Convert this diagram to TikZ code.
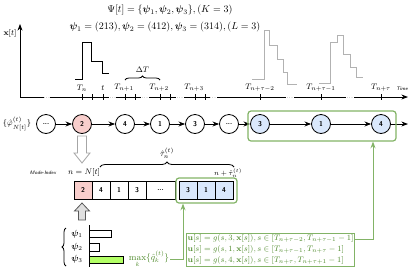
\documentclass[tikz,border=0pt]{standalone}
\usepackage{bm}
\usepackage{xcolor}
\usepackage{tikz}
\usetikzlibrary{arrows.meta,calc,decorations.pathreplacing}
\definecolor{selgreen}{HTML}{82B366}
\definecolor{seltext}{HTML}{4F8A2B}
\definecolor{pinkfill}{HTML}{F8CECC}
\definecolor{bluefill}{HTML}{DAE8FC}
\definecolor{limefill}{HTML}{B3FF66}
\tikzset{
  mode/.style={circle,draw,thick,minimum size=19pt,inner sep=0pt,font=\sffamily\bfseries\scriptsize},
  cell/.style={draw,thick,minimum width=18pt,minimum height=18pt,inner sep=0pt,font=\sffamily\bfseries\scriptsize},
  tlab/.style={font=\footnotesize,inner sep=1pt},
  dotsep/.style={font=\tiny,inner sep=0pt},
  selbox/.style={draw=selgreen,line width=1.2pt,rounded corners=3pt},
}

\begin{document}
\begin{tikzpicture}[x=1pt,y=-1pt,>=Stealth]
  \useasboundingbox (0,0) rectangle (415,274);
  % mode set
  \node (psiset) at (170,10) {$\Psi[t]=\{\bm{\psi}_1,\bm{\psi}_2,\bm{\psi}_3\},(K=3)$};
  \node (psidef) at (165,27) {$\bm{\psi}_1=(213),\bm{\psi}_2=(412),\bm{\psi}_3=(314),(L=3)$};
  % signal axes
  \coordinate (O) at (20,97);
  \coordinate (ytop) at (20,24);
  \coordinate (tend) at (408,97);
  \draw[->,thick] (O) -- (ytop);
  \node (xlab) at (10,33) {\footnotesize $\mathbf{x}[t]$};
  \foreach \a/\b in {20/44,50/109,116/141,149/176,184/210,217/286,294/346}
    \draw[thick] (\a,97) -- (\b,97);
  \draw[->,thick] (354,97) -- (tend);
  \foreach \dx [count=\i] in {47,113,145,180,213,290,350}
    \node[dotsep] (gap\i) at (\dx,98.5) {...};
  \foreach \tx in {82,92,103,125,135,160,170,195,205,260,321,381}
    \draw[thick] (\tx,94) -- (\tx,100);
  \node[tlab] (Tn) at (82,88) {$T_n$};
  \node[tlab] (tt) at (103,88) {$t$};
  \node[tlab] (Tn1) at (124,88) {$T_{n+1}$};
  \node[tlab] (Tn2) at (159,88) {$T_{n+2}$};
  \node[tlab] (Tn3) at (194,88) {$T_{n+3}$};
  \node[tlab] (Tm2) at (260,88) {$T_{n+\tau-2}$};
  \node[tlab] (Tm1) at (321,88) {$T_{n+\tau-1}$};
  \node[tlab] (Tm0) at (381,88) {$T_{n+\tau}$};
  \node[font=\sffamily\itshape\tiny] (timelab) at (402,89) {Time};
  \draw[thick,decorate,decoration={brace,amplitude=4pt}] (125,80) -- (160,80)
    node[midway,above=4pt,font=\footnotesize] (dT) {$\Delta T$};
  % pulses
  \draw[thick,line join=miter] (75,79) -- (82,79) -- (82,42) -- (91,42) -- (91,61)
    -- (102,61) -- (102,73) -- (109,73);
  \draw[thick,gray!60] (252,79) -- (264,79) -- (264,30) -- (269,30) -- (269,45)
    -- (277,45) -- (277,59) -- (283,59) -- (283,72) -- (287,72) -- (287,84) -- (297,84);
  \draw[thick,gray!60] (319,83) -- (330,83) -- (330,42) -- (337,42) -- (337,35)
    -- (343,35) -- (343,54) -- (350,54) -- (350,67) -- (356,67) -- (356,77) -- (363,77);
  % mode sequence
  \node[inner sep=0pt] (phi) at (17,124) {\footnotesize $\{\hat{\varphi}^{(t)}_{N[t]}\}$};
  \node[mode] (d1) at (46,124) {...};
  \node[mode,fill=pinkfill] (m1) at (82,124) {2};
  \node[mode] (m2) at (125,124) {4};
  \node[mode] (m3) at (160,124) {1};
  \node[mode] (m4) at (195,124) {3};
  \node[mode] (d2) at (229,124) {...};
  \node[mode,fill=bluefill] (m5) at (260,124) {3};
  \node[mode,fill=bluefill] (m6) at (321,124) {1};
  \node[mode,fill=bluefill] (m7) at (381,124) {4};
  \coordinate (rowend) at (408,124);
  \foreach \a/\b in {d1/m1,m1/m2,m2/m3,m3/m4,m4/d2,d2/m5,m5/m6,m6/m7,m7/rowend}
    \draw[->,thick] (\a) -- (\b);
  \node[selbox,minimum width=148pt,minimum height=30pt] (sel) at (322,126) {};
  % mode index
  \draw[thick,gray!70,fill=white] (77.5,136) -- (86.5,136) -- (86.5,153) -- (90,153)
    -- (82,163) -- (74,153) -- (77.5,153) -- cycle;
  \node[font=\sffamily\itshape\tiny] (modeidx) at (43,173) {Mode-Index};
  \node[font=\footnotesize] (nidx) at (84,172) {$n=N[t]$};
  \draw[thick,decorate,decoration={brace,amplitude=5pt}] (100,167) -- (234,167)
    node[midway,above=5pt,font=\footnotesize] (tauhat) {$\hat{\tau}^{(t)}_n$};
  \node[font=\scriptsize,inner sep=0pt] (nend) at (228,173) {$n+\hat{\tau}^{(t)}_n$};
  \node[cell,fill=pinkfill] (c1) at (83,190) {2};
  \node[cell] (c2) at (101,190) {4};
  \node[cell] (c3) at (119,190) {1};
  \node[cell] (c4) at (137,190) {3};
  \node[cell,minimum width=29pt] (c5) at (160.5,190) {...};
  \node[cell,fill=bluefill] (c6) at (188,190) {3};
  \node[cell,fill=bluefill] (c7) at (206,190) {1};
  \node[cell,fill=bluefill] (c8) at (224,190) {4};
  \node[selbox,minimum width=61pt,minimum height=25pt] (cellsel) at (206.5,190.5) {};
  \draw[thick,gray!70!black,fill=gray!25] (82,203) -- (89.5,211) -- (85.5,211) -- (85.5,220)
    -- (78.5,220) -- (78.5,211) -- (74.5,211) -- cycle;
  % mode scores
  \draw[thick] (89,225) -- (89,267);
  \node[font=\small] (p1) at (77,234) {$\bm{\psi}_1$};
  \node[font=\small] (p2) at (77,247) {$\bm{\psi}_2$};
  \node[font=\small] (p3) at (77,259) {$\bm{\psi}_3$};
  \draw[thick,decorate,decoration={brace,amplitude=4pt}] (66,266) -- (66,228);
  \draw (89,230) rectangle (111,237);
  \draw (89,243) rectangle (99,251);
  \draw[fill=limefill] (89,256) rectangle (123,263);
  \node[font=\small,text=seltext,inner sep=1pt] (qmax) at (149,259) {$\max\limits_k\{\hat{q}^{(t)}_k\}$};
  \draw[->,selgreen,thick] (qmax.east) -| ([xshift=-23.5pt]cellsel.south);
  % selected control laws
  \node[draw=selgreen,thick,text=seltext,font=\fontsize{8.2}{11}\selectfont,align=left,inner sep=1.5pt] (ubox) at (270.5,249.5)
    {$\mathbf{u}[s]=g(s,3,\mathbf{x}[s]),s\in[T_{n+\tau-2},T_{n+\tau-1}-1]$\\
     $\mathbf{u}[s]=g(s,1,\mathbf{x}[s]),s\in[T_{n+\tau-1},T_{n+\tau}-1]$\\
     $\mathbf{u}[s]=g(s,4,\mathbf{x}[s]),s\in[T_{n+\tau},T_{n+\tau+1}-1]$};
  \draw[->,selgreen,thick] ([yshift=10pt]ubox.east) -| ([xshift=51pt]sel.south);
\end{tikzpicture}
\end{document}
